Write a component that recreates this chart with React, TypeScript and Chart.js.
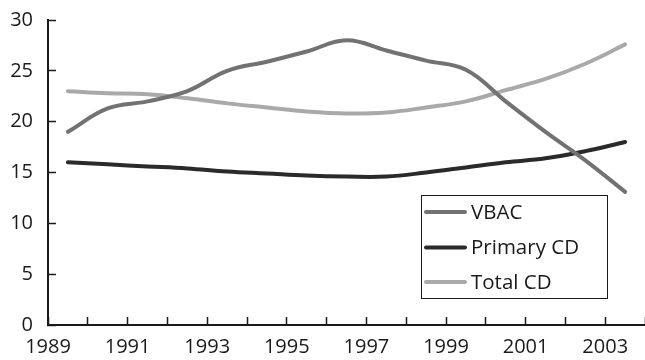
import React, { useEffect, useRef } from 'react';
import { Chart, registerables } from 'chart.js';

Chart.register(...registerables);

const years = [1989, 1990, 1991, 1992, 1993, 1994, 1995, 1996, 1997, 1998, 1999, 2000, 2001, 2002, 2003];
const vbac = [19.0, 21.3, 22.0, 23.0, 25.0, 25.9, 26.9, 28.0, 27.0, 26.0, 25.1, 22.0, 19.0, 16.2, 13.1];
const primaryCD = [16.0, 15.8, 15.6, 15.4, 15.1, 14.9, 14.7, 14.6, 14.6, 15.0, 15.5, 16.0, 16.4, 17.1, 18.0];
const totalCD = [23.0, 22.8, 22.7, 22.3, 21.8, 21.4, 21.0, 20.8, 20.9, 21.4, 22.0, 23.1, 24.2, 25.7, 27.6];
const seriesLabels = ['VBAC', 'Primary CD', 'Total CD'];
const seriesColors = ['#727272', '#2a2a2a', '#a9a9a9'];
const xLabelYears = [1989, 1991, 1993, 1995, 1997, 1999, 2001, 2003];
const xMin = 1989;
const xMax = 2004;
const yMin = 0;
const yMax = 30;
const yStep = 5;

const FONT = '"Open Sans", "Noto Sans", sans-serif';
const INK = '#1a1a1a';

const boxLegend = {
  id: 'boxLegend',
  afterDraw(chart: any) {
    const ctx = chart.ctx;
    const bx = 421.5, by = 195.5, bw = 186, bh = 103;
    ctx.save();
    ctx.strokeStyle = INK;
    ctx.lineWidth = 1;
    ctx.strokeRect(bx, by, bw, bh);
    const rowYs = [212, 247.5, 282];
    chart.data.datasets.forEach((ds: any, i: number) => {
      const y = rowYs[i];
      ctx.beginPath();
      ctx.strokeStyle = ds.borderColor;
      ctx.lineWidth = 4;
      ctx.lineCap = 'round';
      ctx.moveTo(426, y);
      ctx.lineTo(465, y);
      ctx.stroke();
      ctx.fillStyle = INK;
      ctx.font = `20.5px ${FONT}`;
      ctx.textBaseline = 'middle';
      ctx.textAlign = 'left';
      ctx.fillText(ds.label, 471, y + 1);
    });
    ctx.restore();
  },
};

export default function App() {
  const ref = useRef<HTMLCanvasElement | null>(null);

  useEffect(() => {
    document.body.style.margin = '0';
    if (!ref.current) return;
    const series = [vbac, primaryCD, totalCD];
    const chart = new Chart(ref.current, {
      type: 'line',
      data: {
        datasets: series.map((vals, si) => ({
          label: seriesLabels[si],
          data: years.map((yr, i) => ({ x: yr + 0.5, y: vals[i] })),
          borderColor: seriesColors[si],
          backgroundColor: seriesColors[si],
          borderWidth: 4,
          borderCapStyle: 'round',
          borderJoinStyle: 'round',
          pointRadius: 0,
          tension: 0.4,
          fill: false,
        })),
      },
      options: {
        animation: false,
        responsive: true,
        maintainAspectRatio: false,
        layout: { padding: { top: 20, right: 0, left: 0, bottom: 0 } },
        plugins: { legend: { display: false }, tooltip: { enabled: false } },
        scales: {
          x: {
            type: 'linear',
            min: xMin,
            max: xMax,
            afterFit: (s: any) => { s.height = 35; s.paddingLeft = 0; s.paddingRight = 0; },
            ticks: {
              stepSize: 1,
              autoSkip: false,
              maxRotation: 0,
              padding: 18,
              color: INK,
              font: { family: FONT, size: 20 },
              callback: (v: any) => (xLabelYears.includes(Number(v)) ? String(v) : ''),
            },
            grid: {
              display: true,
              drawOnChartArea: false,
              drawTicks: true,
              tickLength: -8,
              tickColor: INK,
              tickWidth: 1.5,
            },
            border: { display: true, color: INK, width: 2 },
          },
          y: {
            min: yMin,
            max: yMax,
            afterFit: (s: any) => { s.width = 48; s.paddingTop = 0; s.paddingBottom = 0; },
            ticks: {
              stepSize: yStep,
              padding: 23,
              color: INK,
              font: { family: FONT, size: 20 },
            },
            grid: {
              display: true,
              drawOnChartArea: false,
              drawTicks: true,
              tickLength: -8,
              tickColor: INK,
              tickWidth: 1.5,
            },
            border: { display: true, color: INK, width: 2 },
          },
        },
      } as any,
      plugins: [boxLegend],
    });
    return () => chart.destroy();
  }, []);

  return (
    <div style={{ position: 'relative', width: 645, height: 360 }}>
      <canvas ref={ref} />
    </div>
  );
}
